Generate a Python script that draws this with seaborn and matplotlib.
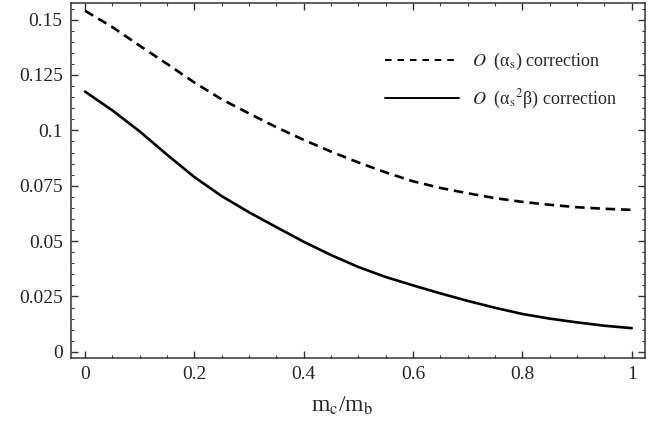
import numpy as np
import pandas as pd
import matplotlib
matplotlib.use("Agg")
import matplotlib.pyplot as plt
import seaborn as sns
from matplotlib.ticker import MultipleLocator, FixedLocator

# valores
mc_mb = [0.0, 0.05, 0.1, 0.15, 0.2, 0.25, 0.3, 0.35, 0.4, 0.45, 0.5,
         0.55, 0.6, 0.65, 0.7, 0.75, 0.8, 0.85, 0.9, 0.95, 1.0]
corr_as = [0.154, 0.1466, 0.1382, 0.1300, 0.1216, 0.1140, 0.1076, 0.1014, 0.0957, 0.0904, 0.0855,
           0.0810, 0.0770, 0.0740, 0.0716, 0.0694, 0.0677, 0.0664, 0.0653, 0.0646, 0.0641]
corr_as2b = [0.1175, 0.1090, 0.0995, 0.0890, 0.0789, 0.0703, 0.0630, 0.0563, 0.0497, 0.0437, 0.0383,
             0.0338, 0.0300, 0.0264, 0.0230, 0.0199, 0.0171, 0.0150, 0.0133, 0.0118, 0.0107]

lbl_as = r'$\mathit{O}$  (α$_{\mathrm{s}}$) correction'
lbl_as2b = r'$\mathit{O}$  (α$_{\mathrm{s}}{}^{2}$β) correction'

yticks = [0, 0.025, 0.05, 0.075, 0.1, 0.125, 0.15]
ytick_labels = ['0', '0.025', '0.05', '0.075', '0.1', '0.125', '0.15']
xticks = [0, 0.2, 0.4, 0.6, 0.8, 1.0]
xtick_labels = ['0', '0.2', '0.4', '0.6', '0.8', '1']

df = pd.DataFrame({
    'x': mc_mb * 2,
    'y': corr_as + corr_as2b,
    'serie': [lbl_as] * len(mc_mb) + [lbl_as2b] * len(mc_mb),
})

sns.set_style("ticks")
plt.rcParams['font.family'] = ['Liberation Serif', 'DejaVu Serif']
plt.rcParams['mathtext.fontset'] = 'stix'

fig = plt.figure(figsize=(6.58, 4.26), dpi=100)
ax = fig.add_axes([0.108, 0.160, 0.872, 0.833])

sns.lineplot(data=df, x='x', y='y', style='serie', hue='serie',
             palette=['black', 'black'], dashes=[(3.6, 2.2), ''],
             linewidth=1.9, ax=ax, legend=True)

ax.set_xlim(-0.0256, 1.024)
ax.set_ylim(-0.0027, 0.1575)
ax.xaxis.set_major_locator(FixedLocator(xticks))
ax.set_xticklabels(xtick_labels)
ax.yaxis.set_major_locator(FixedLocator(yticks))
ax.set_yticklabels(ytick_labels)
ax.xaxis.set_minor_locator(MultipleLocator(0.05))
ax.yaxis.set_minor_locator(MultipleLocator(0.005))
ax.tick_params(which='both', direction='in', top=True, right=True,
               color='#333333', labelsize=14, pad=6)
ax.tick_params(which='major', length=5, width=1)
ax.tick_params(which='minor', length=2.5, width=0.8)
for s in ax.spines.values():
    s.set_color('#333333')
    s.set_linewidth(1.1)

ax.set_ylabel('')
ax.set_xlabel(r'm$_{\mathrm{c}}$/m$_{\mathrm{b}}$', fontsize=17)
ax.xaxis.set_label_coords(0.472, -0.105)

leg = ax.legend(loc='upper left', bbox_to_anchor=(0.547, 0.865), frameon=False,
                fontsize=13, handlelength=4.1, handletextpad=0.7,
                labelspacing=0.9, borderpad=0, borderaxespad=0)
for line in leg.get_lines():
    line.set_linewidth(1.4)
leg.get_lines()[0].set_dashes((3.4, 3.0))

fig.savefig('out.png', dpi=100)
